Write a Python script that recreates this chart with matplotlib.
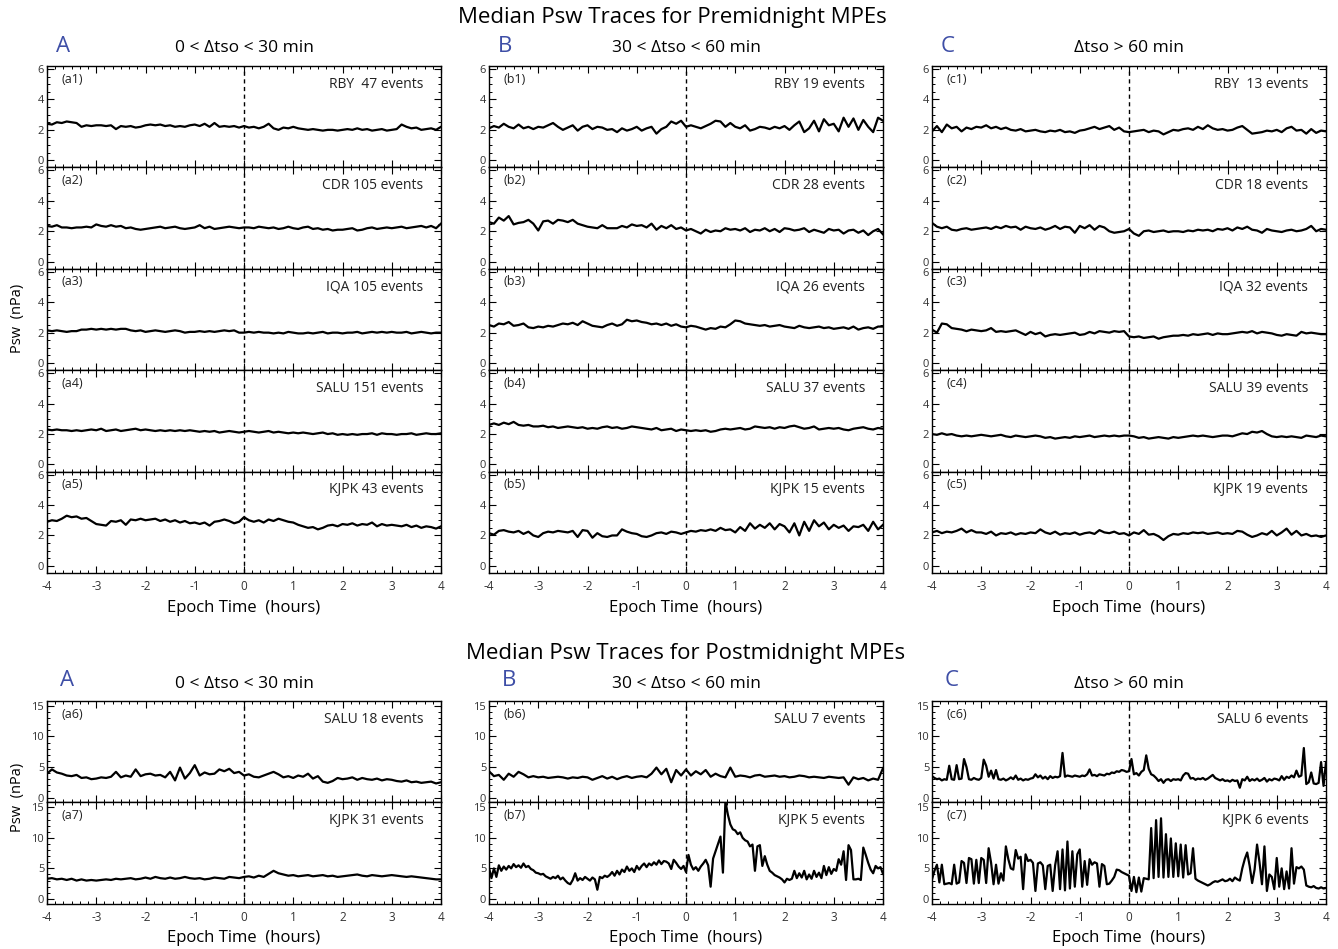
import numpy as np
import matplotlib
matplotlib.use("Agg")
import matplotlib.pyplot as plt
from matplotlib.ticker import MultipleLocator

plt.rcParams['font.family'] = ['Open Sans', 'DejaVu Sans']
plt.rcParams['axes.unicode_minus'] = False

# epoch time grids (hours)
t_coarse = np.linspace(-4, 4, 81)   # 6 min steps
t_fine = np.linspace(-4, 4, 161)    # 3 min steps

# ---- premidnight, column A: 0 < dtso < 30 min ----
a1 = [2.4, 2.35, 2.5, 2.45, 2.55, 2.5, 2.45, 2.2, 2.3, 2.25,
      2.3, 2.3, 2.25, 2.3, 2.05, 2.25, 2.2, 2.25, 2.15, 2.2,
      2.3, 2.35, 2.3, 2.35, 2.25, 2.3, 2.2, 2.25, 2.2, 2.3,
      2.35, 2.25, 2.4, 2.2, 2.45, 2.2, 2.25, 2.2, 2.25, 2.15,
      2.25, 2.15, 2.2, 2.1, 2.2, 2.4, 2.1, 2.0, 2.15, 2.1,
      2.2, 2.1, 2.05, 2.0, 2.05, 2.0, 1.95, 2.0, 2.0, 1.95,
      2.0, 2.05, 2.0, 2.1, 2.0, 2.05, 1.95, 2.0, 2.05, 1.95,
      2.0, 2.05, 2.35, 2.2, 2.1, 2.15, 2.0, 2.05, 2.1, 2.0,
      2.2]
a2 = [2.35, 2.3, 2.4, 2.25, 2.25, 2.2, 2.25, 2.25, 2.3, 2.25,
      2.45, 2.35, 2.3, 2.4, 2.3, 2.35, 2.2, 2.25, 2.15, 2.1,
      2.15, 2.2, 2.25, 2.3, 2.2, 2.25, 2.3, 2.2, 2.15, 2.2,
      2.25, 2.4, 2.2, 2.3, 2.15, 2.2, 2.25, 2.3, 2.25, 2.2,
      2.25, 2.25, 2.2, 2.3, 2.25, 2.2, 2.25, 2.15, 2.2, 2.3,
      2.2, 2.15, 2.25, 2.3, 2.15, 2.2, 2.1, 2.15, 2.05, 2.1,
      2.1, 2.15, 2.2, 2.05, 2.1, 2.2, 2.25, 2.15, 2.2, 2.25,
      2.2, 2.25, 2.3, 2.2, 2.25, 2.3, 2.35, 2.25, 2.35, 2.2,
      2.5]
a3 = [2.15, 2.1, 2.15, 2.1, 2.05, 2.1, 2.1, 2.2, 2.2, 2.25,
      2.2, 2.25, 2.2, 2.25, 2.2, 2.25, 2.25, 2.15, 2.1, 2.15,
      2.05, 2.1, 2.15, 2.1, 2.05, 2.1, 2.15, 2.1, 2.0, 2.05,
      2.05, 2.1, 2.05, 2.1, 2.05, 2.1, 2.15, 2.1, 2.15, 2.0,
      2.0, 2.05, 2.0, 2.05, 2.0, 2.0, 1.95, 2.0, 1.95, 2.05,
      2.0, 1.95, 1.95, 2.0, 1.95, 2.0, 2.05, 1.95, 2.0, 2.0,
      1.95, 2.0, 2.0, 2.05, 1.95, 2.0, 2.05, 2.0, 2.05, 2.0,
      2.05, 2.0, 2.0, 2.05, 1.95, 2.0, 2.05, 2.0, 1.95, 2.0,
      2.0]
a4 = [2.3, 2.25, 2.3, 2.25, 2.25, 2.2, 2.25, 2.2, 2.25, 2.3,
      2.25, 2.35, 2.2, 2.25, 2.3, 2.2, 2.25, 2.3, 2.35, 2.25,
      2.3, 2.25, 2.2, 2.25, 2.2, 2.25, 2.2, 2.25, 2.2, 2.25,
      2.2, 2.15, 2.2, 2.15, 2.2, 2.1, 2.15, 2.2, 2.15, 2.1,
      2.15, 2.2, 2.15, 2.1, 2.15, 2.2, 2.1, 2.15, 2.1, 2.05,
      2.1, 2.05, 2.1, 2.05, 2.0, 2.05, 2.1, 2.0, 2.05, 1.95,
      2.0, 1.95, 2.0, 1.95, 2.0, 2.0, 2.05, 1.95, 2.05, 2.0,
      2.0, 1.95, 2.0, 2.0, 2.05, 1.95, 2.0, 2.05, 2.0, 2.0,
      2.05]
a5 = [2.9, 3.0, 2.95, 3.1, 3.3, 3.2, 3.25, 3.1, 3.15, 2.95,
      2.75, 2.7, 2.65, 2.95, 2.9, 3.0, 2.7, 3.05, 3.0, 3.1,
      3.0, 3.05, 3.1, 2.95, 3.05, 2.9, 3.0, 2.85, 2.95, 2.8,
      2.85, 2.75, 2.85, 2.65, 2.9, 2.95, 3.05, 2.95, 2.8, 2.9,
      3.2, 3.0, 2.9, 3.0, 2.85, 3.05, 2.95, 3.1, 3.0, 2.9,
      2.85, 2.7, 2.6, 2.5, 2.55, 2.4, 2.5, 2.65, 2.7, 2.6,
      2.75, 2.7, 2.8, 2.65, 2.75, 2.7, 2.85, 2.6, 2.75, 2.65,
      2.7, 2.65, 2.6, 2.7, 2.55, 2.65, 2.5, 2.6, 2.55, 2.45,
      2.6]

# ---- premidnight, column B: 30 < dtso < 60 min ----
b1 = [2.1, 2.25, 2.15, 2.4, 2.2, 2.1, 2.35, 2.1, 2.2, 2.05,
      2.2, 2.15, 2.3, 2.45, 2.2, 2.0, 2.15, 2.3, 1.95, 2.2,
      2.3, 2.05, 2.2, 2.15, 2.0, 2.05, 1.85, 2.1, 1.95, 2.05,
      2.2, 1.95, 2.1, 2.2, 1.75, 2.05, 2.2, 2.55, 2.4, 2.6,
      2.2, 2.3, 2.2, 2.1, 2.25, 2.4, 2.6, 2.55, 2.2, 2.45,
      2.2, 2.1, 2.3, 1.95, 2.05, 2.2, 2.15, 2.05, 2.2, 2.1,
      2.25, 2.0, 2.3, 2.55, 1.85, 2.1, 2.6, 1.9, 2.7, 2.3,
      2.4, 1.9, 2.8, 2.2, 2.75, 2.0, 2.65, 2.2, 1.85, 2.8,
      2.6]
b2 = [2.6, 2.5, 2.9, 2.7, 3.0, 2.45, 2.55, 2.6, 2.75, 2.5,
      2.05, 2.65, 2.7, 2.5, 2.75, 2.7, 2.6, 2.75, 2.5, 2.4,
      2.3, 2.25, 2.2, 2.4, 2.2, 2.2, 2.2, 2.35, 2.25, 2.45,
      2.35, 2.4, 2.25, 2.5, 2.1, 2.35, 2.2, 2.4, 2.15, 2.25,
      2.05, 2.15, 2.0, 1.85, 2.1, 1.95, 2.05, 2.0, 2.2, 2.1,
      2.15, 2.05, 2.2, 1.95, 2.1, 2.05, 2.2, 2.0, 2.15, 1.95,
      2.2, 2.15, 2.05, 2.1, 2.2, 1.95, 2.1, 2.0, 1.9, 2.15,
      2.05, 2.1, 1.85, 2.05, 2.1, 1.9, 2.05, 1.75, 2.0, 2.15,
      1.8]
b3 = [2.5, 2.4, 2.6, 2.55, 2.7, 2.45, 2.5, 2.6, 2.35, 2.3,
      2.4, 2.35, 2.45, 2.4, 2.5, 2.6, 2.55, 2.65, 2.5, 2.75,
      2.6, 2.45, 2.4, 2.35, 2.5, 2.6, 2.45, 2.55, 2.85, 2.75,
      2.8, 2.7, 2.65, 2.55, 2.6, 2.5, 2.6, 2.45, 2.55, 2.4,
      2.35, 2.45, 2.4, 2.3, 2.2, 2.3, 2.25, 2.4, 2.35, 2.55,
      2.8, 2.75, 2.6, 2.55, 2.5, 2.45, 2.5, 2.4, 2.45, 2.5,
      2.4, 2.35, 2.3, 2.45, 2.35, 2.3, 2.35, 2.4, 2.3, 2.35,
      2.25, 2.3, 2.35, 2.25, 2.4, 2.2, 2.3, 2.35, 2.25, 2.4,
      2.4]
b4 = [2.6, 2.7, 2.6, 2.75, 2.65, 2.8, 2.6, 2.55, 2.6, 2.5,
      2.5, 2.55, 2.45, 2.5, 2.4, 2.45, 2.5, 2.45, 2.4, 2.45,
      2.35, 2.4, 2.35, 2.45, 2.5, 2.4, 2.45, 2.35, 2.4, 2.5,
      2.45, 2.4, 2.35, 2.3, 2.4, 2.25, 2.3, 2.35, 2.2, 2.3,
      2.25, 2.2, 2.25, 2.2, 2.25, 2.15, 2.2, 2.3, 2.35, 2.3,
      2.35, 2.4, 2.3, 2.35, 2.5, 2.45, 2.4, 2.45, 2.35, 2.45,
      2.4, 2.5, 2.55, 2.45, 2.35, 2.4, 2.5, 2.3, 2.35, 2.4,
      2.35, 2.4, 2.3, 2.25, 2.35, 2.4, 2.45, 2.35, 2.3, 2.4,
      2.35]
b5 = [2.15, 2.05, 2.3, 2.35, 2.25, 2.2, 2.3, 2.1, 2.25, 2.0,
      1.9, 2.15, 2.25, 2.2, 2.3, 2.25, 2.2, 2.3, 1.9, 2.35,
      2.3, 1.85, 2.15, 1.95, 1.9, 2.0, 2.0, 2.4, 2.25, 2.15,
      2.1, 1.95, 1.9, 2.0, 2.15, 2.2, 2.1, 2.25, 2.2, 2.1,
      2.2, 2.3, 2.25, 2.35, 2.3, 2.4, 2.3, 2.5, 2.35, 2.4,
      2.2, 2.55, 2.3, 2.8, 2.45, 2.7, 2.5, 2.8, 2.4, 2.75,
      2.6, 2.2, 2.8, 2.0, 2.9, 2.3, 3.0, 2.6, 2.85, 2.4,
      2.7, 2.5, 2.65, 2.3, 2.6, 2.55, 2.7, 2.3, 2.9, 2.4,
      2.7]

# ---- premidnight, column C: dtso > 60 min ----
c1 = [1.9, 2.25, 1.85, 2.35, 2.1, 2.2, 1.9, 2.15, 2.05, 2.2,
      2.15, 2.3, 2.1, 2.2, 2.05, 2.15, 2.0, 1.95, 2.05, 1.9,
      1.95, 2.0, 1.9, 1.85, 1.95, 1.9, 2.0, 1.85, 1.9, 1.8,
      1.95, 2.0, 2.1, 2.2, 2.05, 2.15, 2.25, 2.0, 2.15, 1.9,
      1.85, 1.9, 1.95, 2.0, 1.85, 1.95, 1.9, 1.7, 1.85, 2.0,
      1.95, 2.05, 2.1, 2.0, 2.2, 2.05, 2.3, 2.1, 2.0, 2.05,
      1.95, 2.0, 2.15, 2.25, 2.0, 1.75, 1.8, 1.85, 1.95, 1.9,
      2.0, 1.85, 2.1, 2.2, 1.95, 2.0, 1.75, 2.05, 1.8, 1.95,
      1.9]
c2 = [2.55, 2.3, 2.2, 2.3, 2.1, 2.05, 2.15, 2.2, 2.1, 2.15,
      2.2, 2.25, 2.15, 2.3, 2.2, 2.35, 2.25, 2.3, 2.1, 2.3,
      2.2, 2.15, 2.25, 2.1, 2.2, 2.35, 2.15, 2.3, 2.25, 1.9,
      2.35, 2.2, 2.4, 2.1, 2.35, 2.25, 2.0, 1.9, 1.95, 2.0,
      2.15, 1.85, 1.7, 2.0, 2.05, 1.95, 2.0, 2.05, 1.95, 2.0,
      2.0, 1.95, 2.05, 2.0, 2.1, 2.05, 2.1, 2.0, 2.15, 2.1,
      2.2, 2.05, 2.25, 2.15, 2.3, 2.1, 2.05, 1.9, 2.15, 2.05,
      2.0, 1.95, 2.05, 2.1, 2.0, 2.05, 2.15, 2.35, 2.0, 2.15,
      2.1]
c3 = [2.2, 2.0, 2.6, 2.55, 2.3, 2.25, 2.2, 2.1, 2.2, 2.15,
      2.1, 2.15, 2.3, 2.05, 2.1, 2.05, 2.1, 2.15, 2.0, 1.85,
      2.05, 1.9, 2.0, 1.75, 1.85, 1.9, 1.85, 1.9, 1.95, 2.0,
      1.85, 1.9, 2.05, 1.95, 2.1, 2.05, 2.0, 2.1, 2.05, 2.1,
      1.75, 1.7, 1.75, 1.65, 1.7, 1.75, 1.6, 1.7, 1.75, 1.8,
      1.8, 1.85, 1.8, 1.9, 1.85, 1.9, 1.95, 1.85, 1.95, 1.9,
      1.9, 1.95, 2.0, 2.05, 2.0, 2.1, 1.95, 2.05, 2.0, 1.95,
      1.85, 1.8, 1.9, 1.85, 1.8, 2.05, 1.95, 2.0, 1.95, 1.9,
      1.9]
c4 = [2.0, 1.95, 2.05, 1.95, 2.0, 1.9, 1.85, 1.9, 1.85, 1.9,
      1.95, 1.9, 1.85, 1.9, 1.95, 1.85, 1.8, 1.9, 1.85, 1.8,
      1.85, 1.9, 1.85, 1.75, 1.8, 1.7, 1.75, 1.8, 1.75, 1.85,
      1.8, 1.85, 1.9, 1.8, 1.85, 1.9, 1.85, 1.9, 1.85, 1.9,
      1.9, 1.85, 1.75, 1.8, 1.7, 1.75, 1.8, 1.75, 1.7, 1.8,
      1.75, 1.8, 1.85, 1.9, 1.85, 1.9, 1.85, 1.8, 1.85, 1.9,
      1.9, 1.85, 1.95, 2.05, 2.0, 2.15, 2.1, 2.2, 2.0, 1.85,
      1.8, 1.85, 1.8, 1.85, 1.8, 1.75, 1.9, 1.85, 1.8, 1.9,
      1.85]
c5 = [2.2, 2.3, 2.15, 2.25, 2.2, 2.3, 2.45, 2.2, 2.35, 2.2,
      2.2, 2.1, 2.25, 2.0, 2.15, 2.1, 2.2, 2.05, 2.15, 2.1,
      2.2, 2.15, 2.4, 2.2, 2.1, 2.25, 2.05, 2.15, 2.1, 2.2,
      2.05, 2.15, 2.2, 2.1, 2.35, 2.2, 2.15, 2.25, 2.1, 2.15,
      2.0, 2.2, 2.1, 2.35, 2.05, 2.1, 1.95, 1.7, 1.95, 2.1,
      2.05, 2.15, 2.1, 2.2, 2.15, 2.2, 2.1, 2.15, 2.2, 2.1,
      2.15, 2.1, 2.3, 2.25, 2.05, 1.9, 2.0, 2.15, 2.05, 2.3,
      2.0, 2.2, 2.45, 2.05, 2.3, 2.0, 2.1, 1.95, 2.0, 1.9,
      2.0]

# ---- postmidnight ----
a6 = [3.9, 4.6, 4.1, 3.9, 3.6, 3.5, 3.7, 3.2, 3.3, 3.0,
      3.1, 3.3, 3.2, 3.4, 4.2, 3.3, 3.6, 3.4, 4.6, 3.5,
      3.8, 3.9, 3.6, 3.7, 3.3, 4.2, 2.8, 4.9, 3.1, 4.0,
      5.3, 3.6, 4.1, 3.8, 3.9, 4.6, 4.3, 4.7, 4.0, 4.2,
      3.6, 3.8, 3.4, 3.3, 3.6, 3.9, 4.2, 3.8, 3.3, 3.5,
      3.2, 3.6, 3.4, 3.9, 3.1, 3.5, 2.6, 2.4, 2.7, 3.2,
      3.0, 3.1, 3.3, 2.9, 3.2, 3.0, 2.9, 3.1, 2.8, 3.0,
      2.9, 2.7, 2.6, 2.8, 2.5, 2.6, 2.4, 2.5, 2.6, 2.3,
      2.5]
a7 = [3.3, 3.4, 3.2, 3.3, 3.1, 3.3, 3.0, 3.2, 3.0, 3.1,
      3.0, 3.1, 3.2, 3.1, 3.3, 3.2, 3.3, 3.4, 3.2, 3.3,
      3.5, 3.3, 3.6, 3.4, 3.3, 3.5, 3.3, 3.4, 3.6, 3.4,
      3.3, 3.4, 3.2, 3.3, 3.5, 3.4, 3.3, 3.6, 3.5, 3.4,
      3.6, 3.7, 3.5, 3.8, 3.6, 4.1, 4.6, 4.2, 4.0, 3.8,
      3.9, 3.7, 3.8, 3.9, 3.7, 3.8, 3.9, 3.7, 3.8, 3.6,
      3.7, 3.8, 3.9, 4.0, 3.8, 3.7, 3.9, 3.8, 3.7, 3.8,
      3.9, 3.8, 3.7, 3.6, 3.7, 3.6, 3.5, 3.4, 3.3, 3.2,
      3.2]
b6 = [4.3, 3.5, 3.7, 2.9, 3.9, 3.4, 4.2, 3.8, 3.3, 3.5,
      3.3, 3.4, 3.2, 3.3, 3.4, 3.3, 3.1, 3.3, 3.2, 3.4,
      3.3, 2.9, 3.2, 3.5, 3.1, 3.4, 3.0, 3.3, 3.5, 3.2,
      3.4, 3.5, 3.3, 3.9, 4.9, 3.8, 4.7, 2.5, 4.5, 3.6,
      4.6, 3.6, 4.3, 3.8, 4.5, 3.4, 3.9, 3.5, 3.3, 4.9,
      3.4, 3.6, 3.5, 3.3, 3.6, 3.7, 3.4, 3.5, 3.6, 3.4,
      3.5, 3.3, 3.4, 3.6, 3.5, 3.3, 3.4, 3.3, 3.2, 3.4,
      3.3, 3.2, 3.3, 2.1, 3.3, 3.0, 3.2, 2.8, 3.1, 2.9,
      4.8]
# fine grid (20 values per hour)
b7 = [5.1, 3.4, 5.0, 3.6, 5.5, 4.6, 5.3, 4.8, 5.4, 5.0, 5.7, 5.2, 5.5, 5.1, 5.8, 5.2, 5.4, 4.9, 4.7, 4.3,
      4.2, 4.0, 4.1, 3.7, 3.5, 3.3, 3.6, 3.4, 3.8, 3.2, 3.5, 3.0, 2.6, 2.4, 3.1, 4.2, 3.0, 3.4, 3.1, 3.6,
      3.3, 3.0, 3.5, 3.2, 1.5, 3.6, 3.4, 3.8, 3.6, 3.9, 4.4, 3.8, 4.6, 4.0, 4.8, 4.4, 5.3, 4.6, 5.0, 4.4,
      5.4, 4.8, 5.4, 5.8, 5.2, 5.8, 5.5, 6.0, 5.6, 6.3, 5.7, 6.2, 6.1, 5.8, 4.9, 6.4, 5.9, 5.3, 4.9, 5.4,
      4.4, 7.2, 5.6, 4.8, 5.2, 4.6, 5.3, 5.8, 6.4, 5.5, 2.0, 6.6, 7.8, 9.0, 10.2, 4.3, 16.0, 13.8, 12.2, 11.4,
      11.2, 10.6, 10.9, 10.0, 9.6, 9.4, 8.6, 8.9, 4.6, 8.6, 8.8, 5.4, 7.0, 5.6, 4.6, 4.3, 3.9, 3.7, 3.5, 3.2,
      2.7, 3.3, 3.1, 3.3, 4.6, 3.4, 4.2, 3.5, 4.6, 3.2, 4.0, 3.3, 4.6, 3.6, 4.3, 3.4, 5.4, 3.9, 5.2, 4.1,
      4.9, 4.6, 6.5, 5.6, 7.8, 3.1, 8.8, 8.0, 3.2, 3.2, 3.3, 3.1, 8.4, 7.2, 5.9, 4.8, 4.2, 5.4, 5.0, 5.2,
      4.1]
c6 = [3.5, 3.2, 3.0, 3.1, 2.8, 3.0, 2.9, 5.2, 3.0, 2.9, 5.3, 3.0, 3.1, 6.3, 5.0, 3.0, 2.9, 3.2, 3.0, 2.9,
      3.2, 6.2, 5.2, 3.4, 4.4, 3.1, 4.5, 3.0, 2.9, 3.1, 2.8, 3.0, 3.3, 3.0, 3.6, 2.9, 3.1, 2.8, 3.0, 2.9,
      3.1, 3.2, 3.8, 3.3, 3.6, 3.1, 3.4, 3.0, 3.5, 3.2, 3.4, 3.3, 3.5, 7.3, 3.4, 3.6, 3.5, 3.4, 3.6, 3.5,
      3.4, 3.6, 3.5, 3.8, 4.6, 3.6, 3.7, 3.5, 3.8, 3.7, 3.6, 3.9, 3.8, 4.1, 4.0, 4.3, 4.2, 4.5, 4.4, 4.2,
      4.3, 6.3, 3.8, 4.0, 3.6, 4.2, 4.5, 6.9, 4.7, 3.8, 3.6, 3.2, 2.7, 3.0, 2.4, 2.9, 3.0, 2.7, 3.0, 2.9,
      3.0, 2.8, 3.6, 4.0, 3.9, 3.1, 3.2, 2.9, 3.1, 3.0, 3.2, 2.9, 3.1, 3.4, 3.7, 3.2, 3.0, 2.8, 3.0, 2.7,
      2.8, 2.6, 2.9, 2.7, 2.8, 1.6, 3.0, 2.8, 3.4, 2.7, 3.0, 2.8, 3.1, 2.7, 2.9, 3.2, 2.6, 3.0, 2.8, 3.1,
      3.0, 2.8, 3.5, 2.9, 3.4, 3.2, 3.6, 3.3, 4.4, 3.4, 3.6, 8.1, 2.2, 2.5, 4.1, 2.3, 2.2, 2.4, 5.8, 1.9,
      5.8]
c7 = [3.2, 4.6, 5.6, 2.7, 5.6, 2.4, 2.5, 2.6, 2.4, 5.6, 2.5, 2.7, 6.2, 5.9, 2.6, 6.7, 6.5, 2.5, 6.4, 2.6,
      6.7, 6.4, 2.6, 8.3, 5.9, 2.4, 5.6, 2.5, 4.2, 3.0, 8.6, 6.5, 5.0, 4.8, 8.0, 6.6, 6.9, 1.6, 7.3, 6.2,
      6.4, 5.9, 1.3, 5.8, 6.0, 5.5, 1.6, 5.4, 5.6, 1.3, 5.5, 7.8, 1.6, 8.1, 1.4, 9.4, 1.7, 7.8, 2.0, 7.3,
      8.1, 2.0, 6.2, 2.3, 6.5, 5.6, 6.0, 5.8, 2.0, 5.7, 5.4, 2.4, 2.5, 3.0, 3.6, 4.8, 4.7, 4.4, 4.2, 4.0,
      3.8, 1.3, 3.6, 1.1, 3.5, 1.2, 3.4, 3.3, 3.2, 11.6, 3.4, 12.9, 3.6, 13.2, 3.5, 10.6, 3.6, 9.9, 3.6, 9.1,
      3.7, 8.9, 3.5, 8.8, 4.0, 4.2, 8.3, 3.3, 3.0, 2.8, 2.6, 2.4, 2.2, 2.4, 2.7, 2.9, 2.8, 3.0, 3.2, 2.9,
      3.0, 3.3, 2.9, 3.5, 3.2, 3.0, 5.0, 6.5, 7.6, 5.4, 2.6, 4.8, 8.9, 6.0, 2.4, 8.6, 1.3, 4.0, 3.6, 1.6,
      6.7, 2.0, 5.0, 1.6, 4.5, 1.7, 8.3, 2.5, 5.2, 5.0, 5.3, 4.8, 2.2, 2.0, 1.9, 2.1, 1.8, 1.7, 1.9, 1.7,
      1.8]

letters = ['A', 'B', 'C']
col_titles = ['0 < \u0394tso < 30 min', '30 < \u0394tso < 60 min', '\u0394tso > 60 min']

pre_traces = [[a1, a2, a3, a4, a5], [b1, b2, b3, b4, b5], [c1, c2, c3, c4, c5]]
pre_tags = [['(a1)', '(a2)', '(a3)', '(a4)', '(a5)'],
            ['(b1)', '(b2)', '(b3)', '(b4)', '(b5)'],
            ['(c1)', '(c2)', '(c3)', '(c4)', '(c5)']]
pre_names = [['RBY  47 events', 'CDR 105 events', 'IQA 105 events', 'SALU 151 events', 'KJPK 43 events'],
             ['RBY 19 events', 'CDR 28 events', 'IQA 26 events', 'SALU 37 events', 'KJPK 15 events'],
             ['RBY  13 events', 'CDR 18 events', 'IQA 32 events', 'SALU 39 events', 'KJPK 19 events']]

post_traces = [[a6, a7], [b6, b7], [c6, c7]]
post_tags = [['(a6)', '(a7)'], ['(b6)', '(b7)'], ['(c6)', '(c7)']]
post_names = [['SALU 18 events', 'KJPK 31 events'],
              ['SALU 7 events', 'KJPK 5 events'],
              ['SALU 6 events', 'KJPK 6 events']]

W, H = 1338, 949
fig = plt.figure(figsize=(W / 100, H / 100), dpi=100)

col_left = [47, 489, 932]
col_w = 394
row_h = 101.4
blue = '#3e4ea6'


def px(x, y):
    return x / W, 1 - y / H


def panel(x0, ytop, tag, name, vals, ylim, ymaj, ymin, bottom):
    ax = fig.add_axes([x0 / W, 1 - (ytop + row_h) / H, col_w / W, row_h / H])
    t = t_coarse if len(vals) == 81 else t_fine
    ax.plot(t, vals, color='black', lw=1.6)
    ax.axvline(0, color='black', lw=1.0, ls=(0, (3, 2.5)))
    ax.set_xlim(-4, 4)
    ax.set_ylim(*ylim)
    ax.xaxis.set_major_locator(MultipleLocator(1))
    ax.xaxis.set_minor_locator(MultipleLocator(1 / 6))
    ax.yaxis.set_major_locator(MultipleLocator(ymaj))
    ax.yaxis.set_minor_locator(MultipleLocator(ymin))
    ax.tick_params(which='both', direction='in', top=True, right=True,
                   labelsize=8, labelcolor='#333333')
    ax.tick_params(which='major', length=5, width=0.8)
    ax.tick_params(which='minor', length=2.5, width=0.7)
    ax.tick_params(axis='x', pad=5, labelsize=8.5)
    ax.tick_params(axis='y', pad=2)
    if not bottom:
        ax.tick_params(labelbottom=False)
    for s in ax.spines.values():
        s.set_linewidth(1.0)
    ax.text(0.036, 0.87, tag, transform=ax.transAxes, fontsize=9,
            va='center', ha='left', color='#222222')
    ax.text(0.955, 0.82, name, transform=ax.transAxes, fontsize=10,
            va='center', ha='right', color='#222222')
    return ax


# premidnight block
fig.text(*px(672, 18), 'Median Psw Traces for Premidnight MPEs', fontsize=16,
         ha='center', va='center')
for i in range(3):
    x0 = col_left[i]
    fig.text(*px(x0 + col_w / 2, 48), col_titles[i], fontsize=12.5, ha='center', va='center')
    fig.text(*px(x0 + 16, 46), letters[i], fontsize=16, color=blue, ha='center', va='center')
    for j in range(5):
        panel(x0, 66 + j * row_h, pre_tags[i][j], pre_names[i][j], pre_traces[i][j],
              (-0.47, 6.2), 2, 0.5, j == 4)
    fig.text(*px(x0 + col_w / 2, 608), 'Epoch Time  (hours)', fontsize=12, ha='center', va='center')
fig.text(*px(18, 318), 'Psw  (nPa)', fontsize=10.5, rotation=90, ha='center', va='center')

# postmidnight block
fig.text(*px(686, 653), 'Median Psw Traces for Postmidnight MPEs', fontsize=16,
         ha='center', va='center')
for i in range(3):
    x0 = col_left[i]
    fig.text(*px(x0 + col_w / 2, 684), col_titles[i], fontsize=12.5, ha='center', va='center')
    fig.text(*px(x0 + 20, 681), letters[i], fontsize=16, color=blue, ha='center', va='center')
    for j in range(2):
        panel(x0, 701 + j * row_h, post_tags[i][j], post_names[i][j], post_traces[i][j],
              (-0.8, 15.8), 5, 1, j == 1)
    fig.text(*px(x0 + col_w / 2, 938), 'Epoch Time  (hours)', fontsize=12, ha='center', va='center')
fig.text(*px(18, 797), 'Psw  (nPa)', fontsize=10.5, rotation=90, ha='center', va='center')

fig.savefig('out.png', dpi=100)
